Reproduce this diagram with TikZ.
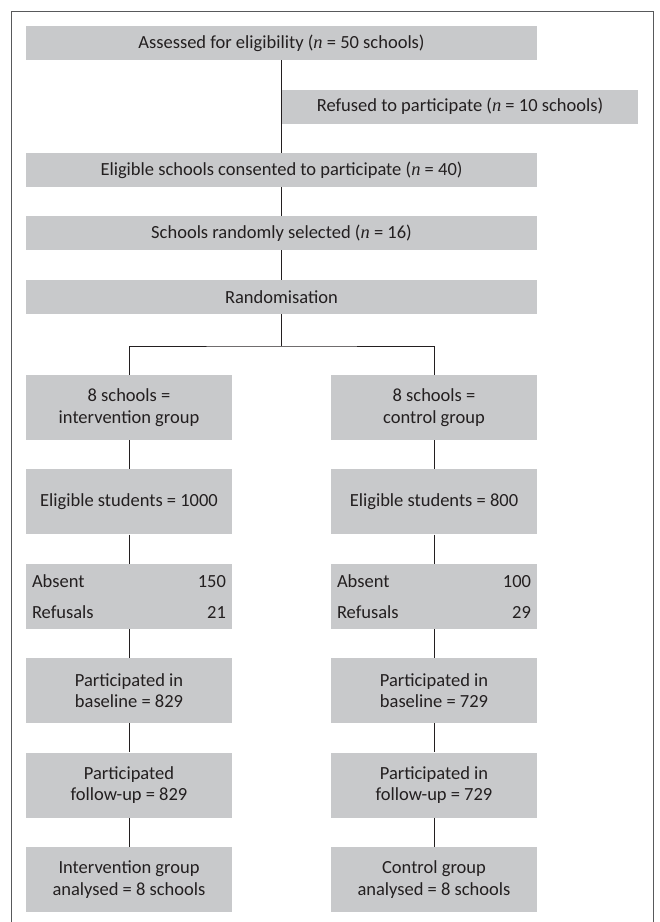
\documentclass[tikz,border=0pt]{standalone}
\usepackage{fontspec}
\setmainfont{Carlito}
\newfontfamily\nfont{Liberation Serif}
\usetikzlibrary{positioning}
\definecolor{boxgrey}{HTML}{C8C9CB}
\definecolor{framegrey}{HTML}{58595B}
\definecolor{inkgrey}{HTML}{231F20}
\newcommand{\nval}{{\nfont\itshape n}}

\begin{document}
\begin{tikzpicture}[x=1pt,y=-1pt,font=\fontsize{18.5}{21.7}\selectfont,every node/.style={fill=boxgrey,text=inkgrey,inner sep=0pt,align=center},wide/.style={minimum width=511pt,minimum height=34pt},half/.style={minimum width=206pt,minimum height=65pt},link/.style={draw=inkgrey,line width=0.9pt}]
  \useasboundingbox (0,0) rectangle (660,922);
  \draw[framegrey,line width=1.2pt] (11.5,922) -- (11.5,11.5) -- (653.5,11.5) -- (653.5,922);
  % main column
  \node[wide] (assess) at (281.5,43) {Assessed for eligibility (\nval{} = 50 schools)};
  \node[minimum width=356pt,minimum height=34pt] (refused) at (460,106.5) {Refused to participate (\nval{} = 10 schools)};
  \node[wide] (consent) at (281.5,170) {Eligible schools consented to participate (\nval{} = 40)};
  \node[wide] (select) at (281.5,233) {Schools randomly selected (\nval{} = 16)};
  \node[wide] (random) at (281.5,297) {Randomisation};
  \coordinate (fork) at (281.5,346);
  % two arms
  \node[half] (intv) at (129,407.5) {8 schools =\\intervention group};
  \node[half] (ctrl) at (434,407.5) {8 schools =\\control group};
  \node[half,below=29pt of intv] (istud) {Eligible students = 1000};
  \node[half,below=29pt of ctrl] (cstud) {Eligible students = 800};
  \node[half,below=29pt of istud] (iloss) {\makebox[194pt]{Absent\hfill 150}\\[9.3pt]\makebox[194pt]{Refusals\hfill 21}};
  \node[half,below=29pt of cstud] (closs) {\makebox[194pt]{Absent\hfill 100}\\[9.3pt]\makebox[194pt]{Refusals\hfill 29}};
  \node[half,below=29pt of iloss] (ibase) {Participated in\\baseline = 829};
  \node[half,below=29pt of closs] (cbase) {Participated in\\baseline = 729};
  \node[half,below=29pt of ibase] (ifoll) {Participated\\follow-up = 829};
  \node[half,below=29pt of cbase] (cfoll) {Participated in\\follow-up = 729};
  \node[half,below=29pt of ifoll] (ianal) {Intervention group\\analysed = 8 schools};
  \node[half,below=29pt of cfoll] (canal) {Control group\\analysed = 8 schools};
  % connectors
  \draw[link] (assess) -- (consent);
  \draw[link] (consent) -- (select);
  \draw[link] (select) -- (random);
  \draw[link] (random) -- (fork);
  \draw[link] (intv.north) |- (fork) -| (ctrl.north);
  \foreach \a/\b in {intv/istud, istud/iloss, iloss/ibase, ibase/ifoll, ifoll/ianal, ctrl/cstud, cstud/closs, closs/cbase, cbase/cfoll, cfoll/canal}
    \draw[link] (\a) -- (\b);
\end{tikzpicture}
\end{document}
